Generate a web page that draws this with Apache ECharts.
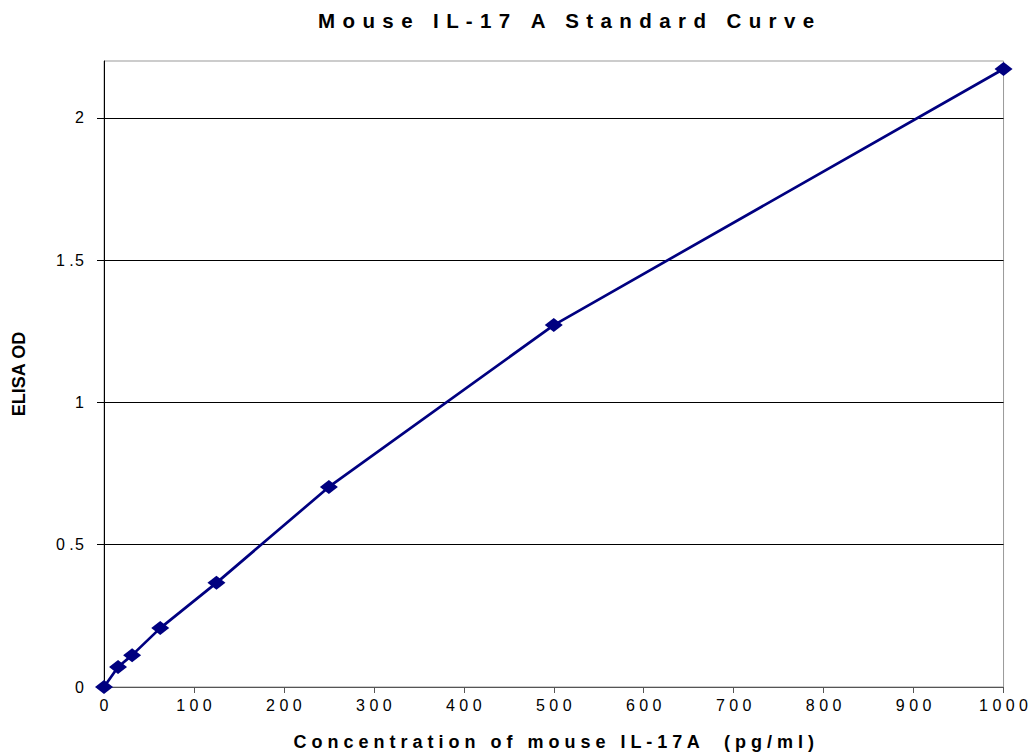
<!DOCTYPE html>
<html><head><meta charset="utf-8">
<script src="https://cdn.jsdelivr.net/npm/echarts@6/dist/echarts.min.js"></script>
<style>html,body{margin:0;padding:0;background:#fff}#c{width:1031px;height:756px}</style>
</head><body><div id="c"></div>
<script>
const concentrations = [0, 15.6, 31.25, 62.5, 125, 250, 500, 1000];
const odValues = [0, 0.07, 0.112, 0.207, 0.366, 0.703, 1.272, 2.172];
const titleText = 'Mouse IL-17 A Standard Curve';
const xTitle = 'Concentration of mouse IL-17A  (pg/ml)';
const yTitle = 'ELISA OD';

function spaced(s, sep) { return s.split('').join(sep); }
const HAIR = '\u200A';

const chart = echarts.init(document.getElementById('c'), null, {renderer: 'svg'});
chart.setOption({
  animation: false,
  backgroundColor: '#fff',
  title: {
    text: spaced(titleText, ' ' + HAIR),
    left: 313, top: 5,
    textStyle: {fontFamily: 'Liberation Sans, Arial', fontWeight: 'bold', fontSize: 20.5, color: '#000'}
  },
  grid: {left: 104, right: 27, top: 61, bottom: 69, show: true, borderColor: '#999', borderWidth: 1},
  xAxis: {
    type: 'value', min: 0, max: 1000, interval: 100,
    name: spaced(xTitle, ' '), nameLocation: 'middle', nameGap: 46,
    nameTextStyle: {fontFamily: 'Liberation Sans, Arial', fontWeight: 'bold', fontSize: 18, color: '#000'},
    axisLine: {show: true, lineStyle: {color: '#555', width: 1}},
    axisTick: {show: true, length: 6, lineStyle: {color: '#555'}},
    axisLabel: {fontFamily: 'Liberation Sans, Arial', fontSize: 16, color: '#000', margin: 10,
      formatter: v => spaced(String(v), ' ')},
    splitLine: {show: false}
  },
  yAxis: {
    type: 'value', min: 0, max: 2.2, interval: 0.5,
    name: yTitle, nameLocation: 'middle', nameGap: 76, nameRotate: 90,
    nameTextStyle: {fontFamily: 'Liberation Sans, Arial', fontWeight: 'bold', fontSize: 18, color: '#000'},
    axisLine: {show: true, lineStyle: {color: '#000', width: 1}},
    axisTick: {show: true, length: 7, lineStyle: {color: '#000'}},
    axisLabel: {fontFamily: 'Liberation Sans, Arial', fontSize: 16, color: '#000', margin: 20, showMaxLabel: false,
      formatter: v => (Math.abs(v - 2.2) < 1e-6 ? '' : String(v).replace('.', ' .' + HAIR))},
    splitLine: {show: true, showMaxLine: false, lineStyle: {color: '#000', width: 1}}
  },
  series: [{
    type: 'line',
    data: concentrations.map((c, i) => [c, odValues[i]]),
    symbol: 'diamond', symbolSize: [18, 14],
    lineStyle: {color: '#000080', width: 2.7},
    itemStyle: {color: '#000080'},
    clip: false
  }]
});
</script>
</body></html>
